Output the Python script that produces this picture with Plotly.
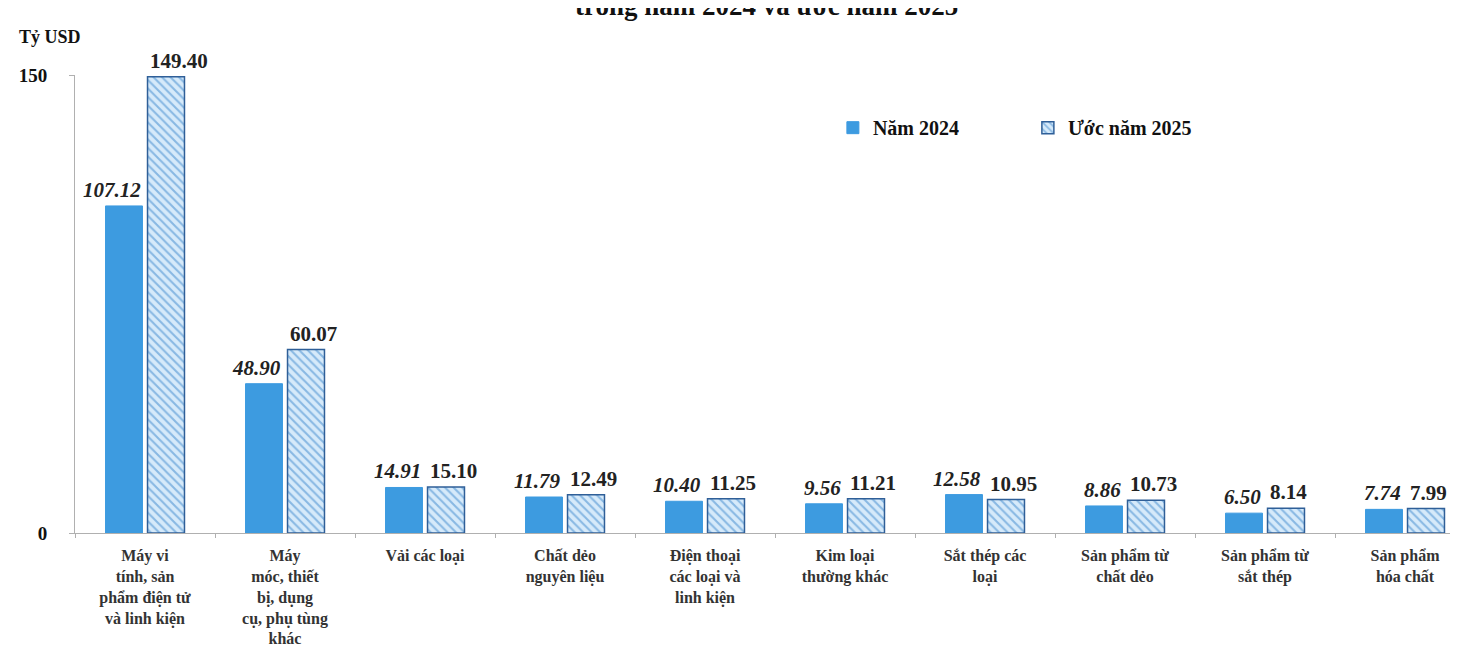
import plotly.graph_objects as go

categories = [
    "Máy vi<br>tính, sản<br>phẩm điện tử<br>và linh kiện",
    "Máy<br>móc, thiết<br>bị, dụng<br>cụ, phụ tùng<br>khác",
    "Vải các loại",
    "Chất dẻo<br>nguyên liệu",
    "Điện thoại<br>các loại và<br>linh kiện",
    "Kim loại<br>thường khác",
    "Sắt thép các<br>loại",
    "Sản phẩm từ<br>chất dẻo",
    "Sản phẩm từ<br>sắt thép",
    "Sản phẩm<br>hóa chất",
]
values_2024 = [107.12, 48.90, 14.91, 11.79, 10.40, 9.56, 12.58, 8.86, 6.50, 7.74]
values_2025 = [149.40, 60.07, 15.10, 12.49, 11.25, 11.21, 10.95, 10.73, 8.14, 7.99]
series_names = ["Năm 2024", "Ước năm 2025"]
title_text = "trong năm 2024 và ước năm 2025"
unit_text = "Tỷ USD"

FONT = "Liberation Serif"
fig = go.Figure()
fig.add_trace(go.Bar(
    x=categories, y=values_2024, name=f"<b>{series_names[0]}</b>",
    marker=dict(color="#3d9be0", line=dict(color="#3d9be0", width=1)),
))
fig.add_trace(go.Bar(
    x=categories, y=values_2025, name=f"<b>{series_names[1]}</b>",
    marker=dict(color="#d6eafa", line=dict(color="#2f5f98", width=1.5),
                pattern=dict(shape="\\", fgcolor="#3a86cc", bgcolor="#d6eafa",
                             size=6, solidity=0.35)),
))

ann = []
for c, v in zip(categories, values_2024):
    ann.append(dict(x=c, y=v, xref="x", yref="y", text=f"<b><i>{v:.2f}</i></b>",
                    showarrow=False, xanchor="right", yanchor="bottom",
                    xshift=-2, yshift=2,
                    font=dict(family=FONT, size=21, color="#222")))
for c, v in zip(categories, values_2025):
    ann.append(dict(x=c, y=v, xref="x", yref="y", text=f"<b>{v:.2f}</b>",
                    showarrow=False, xanchor="left", yanchor="bottom",
                    xshift=3, yshift=2,
                    font=dict(family=FONT, size=21, color="#222")))
ann.append(dict(x=(42 - 67) / 1383, y=1.0 + 38 / 458, xref="paper", yref="paper",
                text=f"<b>{unit_text}</b>", showarrow=False, xanchor="center", yanchor="middle",
                font=dict(family=FONT, size=18, color="#111")))
ann.append(dict(x=(759 - 67) / 1383, y=1.0 + 69 / 458, xref="paper", yref="paper",
                text=f"<b>{title_text}</b>", showarrow=False, xanchor="center", yanchor="middle",
                font=dict(family=FONT, size=27, color="#111")))

fig.update_layout(
    width=1450, height=657,
    margin=dict(l=67, r=0, t=67, b=132),
    plot_bgcolor="white", paper_bgcolor="white",
    barmode="group", bargap=0.4, bargroupgap=0.12,
    showlegend=True,
    legend=dict(orientation="h", x=0.548, y=0.885, xanchor="left", yanchor="middle",
                font=dict(family=FONT, size=20, color="#111"),
                itemwidth=30, traceorder="normal", tracegroupgap=0,
                entrywidth=150, entrywidthmode="pixels",
                bgcolor="rgba(0,0,0,0)"),
    annotations=ann,
    font=dict(family=FONT),
)
fig.update_xaxes(range=[-0.5, -0.5 + 1383 / 140], showline=True, linecolor="#b0b0b0",
                 linewidth=1, ticks="outside", tickson="boundaries", ticklen=4,
                 tickcolor="#b0b0b0", ticklabelstandoff=8,
                 tickfont=dict(family=FONT, size=16, color="#333"), tickangle=0,
                 ticktext=[f"<b>{c}</b>" for c in categories], tickvals=categories)
fig.update_yaxes(range=[0, 150], tickvals=[0, 150], ticktext=["<b>0</b>", "<b>150</b>"],
                 showgrid=False, zeroline=False, showline=True, linecolor="#b0b0b0",
                 linewidth=1, ticks="outside", ticklen=5, tickcolor="#b0b0b0",
                 tickfont=dict(family=FONT, size=19, color="#111"), ticklabelstandoff=18)

fig.write_html("out.html")
